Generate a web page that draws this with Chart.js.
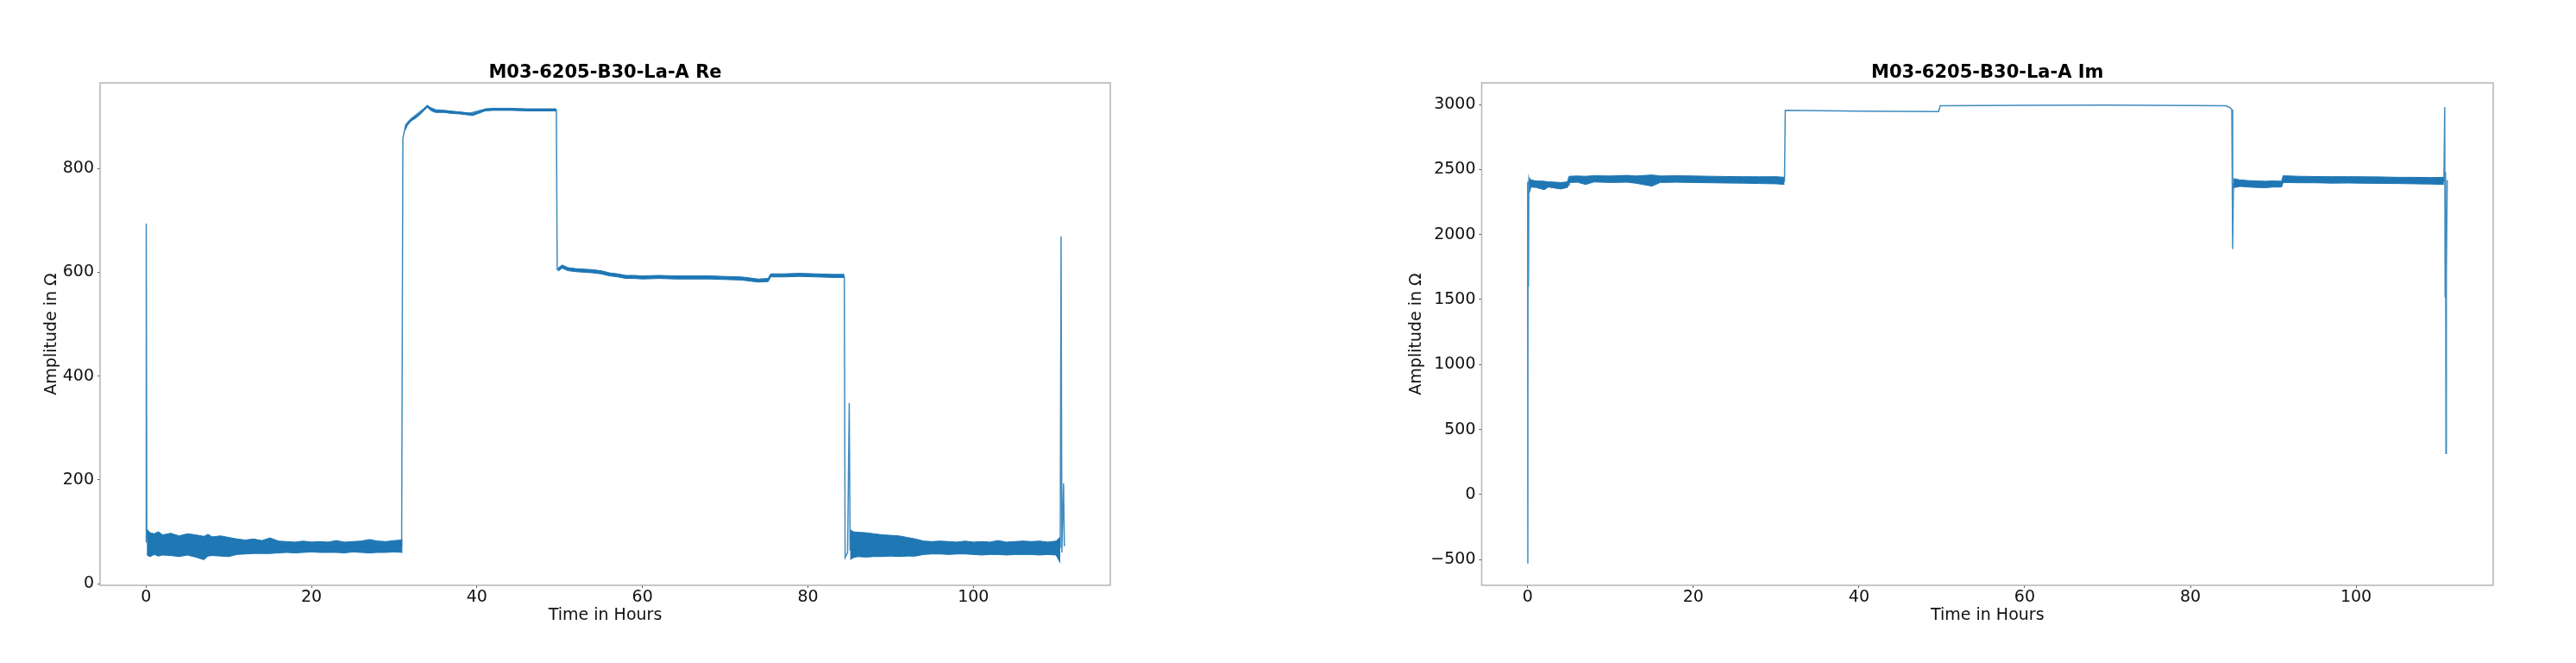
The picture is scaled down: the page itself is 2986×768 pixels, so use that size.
<!DOCTYPE html>
<html>
<head>
<meta charset="utf-8">
<script src="https://cdn.jsdelivr.net/npm/chart.js@4.4.1/dist/chart.umd.min.js"></script>
<style>
  body { margin: 0; background: #fff; width: 2986px; height: 768px; overflow: hidden; }
  canvas { position: absolute; top: 0; }
  #reChart { left: 0; }
  #imChart { left: 1493px; }
</style>
</head>
<body>
<canvas id="reChart" width="1493" height="768"></canvas>
<canvas id="imChart" width="1493" height="768"></canvas>
<script>
const BLUE = '#1f77b4';
const FONT = 'DejaVu Sans';

// tick labels
const timeTicks = [0, 20, 40, 60, 80, 100];
const reTicks = [0, 200, 400, 600, 800];
const imTicks = [-500, 0, 500, 1000, 1500, 2000, 2500, 3000];

// ---- Re: main trace (levels, jumps, spikes)
const reLineTime  = [0, 0.03, 0.1, 0.3, 5, 10, 15, 20, 25, 30.9, 31.05, 31.4, 32, 33, 34, 35, 37, 39, 40.5, 42, 45, 49.6, 49.7, 50.3, 52, 55, 58, 62, 66, 70, 74, 75.2, 75.4, 80, 84.4, 84.5, 84.8, 85.0, 85.1, 90, 100, 110.5, 110.6, 110.7, 110.9, 111];
const reLineValue = [80, 694, 100, 75, 72, 72, 70, 70, 70, 72, 858, 885, 895, 908, 920, 913, 910, 906, 912, 914, 913, 912, 605, 610, 603, 598, 591, 590, 590, 589, 584, 586, 593, 594, 592, 50, 60, 348, 65, 72, 70, 70, 669, 60, 193, 72];

// Re: noisy band 0-31 h (upper / lower envelope)
const reBandATime = [0.1, 0.5, 1, 1.5, 2, 3, 4, 5, 6, 7, 7.5, 8, 9, 10, 11, 12, 13, 14, 15, 16, 17, 18, 19, 20, 21, 22, 23, 24, 25, 26, 27, 28, 29, 30, 31];
const reBandAHigh = [105, 98, 96, 100, 94, 97, 92, 96, 94, 91, 95, 90, 92, 89, 86, 84, 86, 83, 88, 82, 81, 80, 82, 80, 81, 80, 83, 80, 81, 82, 85, 82, 81, 83, 84];
const reBandALow  = [55, 52, 56, 53, 55, 54, 52, 55, 51, 46, 53, 54, 53, 52, 56, 57, 58, 58, 58, 59, 60, 59, 60, 61, 60, 60, 60, 59, 61, 60, 59, 60, 60, 61, 60];

// Re: noisy band 85-110.5 h
const reBandBTime = [85.1, 85.5, 86, 87, 88, 89, 90, 91, 92, 93, 94, 95, 96, 97, 98, 99, 100, 101, 102, 103, 104, 105, 106, 107, 108, 109, 110, 110.5];
const reBandBHigh = [104, 100, 99, 98, 96, 94, 93, 92, 89, 86, 82, 81, 82, 81, 80, 82, 80, 81, 80, 83, 80, 81, 82, 81, 82, 80, 82, 90];
const reBandBLow  = [46, 50, 52, 51, 52, 52, 53, 52, 53, 53, 56, 57, 57, 56, 57, 57, 56, 55, 56, 56, 55, 56, 56, 56, 55, 56, 55, 40];

// Re: plateaus (thin noisy levels)
const rePlateauATime = [31.3, 31.6, 32, 32.5, 33, 33.5, 34, 34.5, 35, 36, 37, 38, 39, 39.5, 40, 41, 42, 44, 46, 48, 49.6];
const rePlateauAHigh = [877, 887, 895, 900, 906, 914, 922, 915, 912, 912, 910, 909, 907, 906, 909, 915, 916, 916, 915, 915, 915];
const rePlateauALow  = [873, 883, 891, 896, 902, 910, 918, 911, 908, 908, 906, 905, 903, 902, 905, 911, 912, 912, 911, 911, 911];

const rePlateauBTime = [49.8, 50.3, 51, 52, 53, 54, 55, 56, 57, 58, 59, 60, 62, 64, 66, 68, 70, 72, 74, 75.2, 75.5, 77, 79, 81, 83, 84.4];
const rePlateauBHigh = [608, 614, 609, 607, 606, 605, 603, 599, 597, 594, 594, 593, 594, 593, 593, 593, 592, 591, 587, 588, 597, 597, 598, 597, 596, 596];
const rePlateauBLow  = [602, 608, 603, 601, 600, 599, 597, 593, 591, 588, 588, 587, 588, 587, 587, 587, 586, 585, 581, 582, 591, 591, 592, 591, 590, 590];

// ---- Im: main trace
const imLineTime  = [0, 0.02, 0.05, 0.1, 0.15, 0.3, 5, 5.1, 31, 31.1, 40, 49.6, 49.8, 60, 70, 80, 84.3, 84.8, 85.0, 85.1, 85.2, 91, 91.2, 110.6, 110.7, 110.75, 110.8, 110.85, 110.9, 111];
const imLineValue = [2400, -530, 2410, 1600, 2430, 2390, 2380, 2420, 2410, 2955, 2948, 2945, 2990, 2993, 2995, 2992, 2990, 2975, 2960, 1888, 2390, 2385, 2420, 2410, 2980, 1520, 2480, 317, 1700, 2420];

// Im: noisy band 0-31 h
const imBandATime = [0.2, 0.4, 1, 2, 2.5, 3, 4, 4.8, 5.0, 6, 7, 8, 10, 12, 13, 15, 16, 18, 20, 22, 24, 26, 28, 30, 31];
const imBandAHigh = [2435, 2420, 2412, 2410, 2405, 2404, 2400, 2405, 2448, 2450, 2448, 2452, 2450, 2455, 2450, 2458, 2450, 2452, 2450, 2448, 2446, 2445, 2444, 2445, 2440];
const imBandALow  = [2320, 2365, 2362, 2345, 2365, 2360, 2350, 2362, 2400, 2402, 2385, 2404, 2400, 2402, 2395, 2372, 2400, 2402, 2400, 2398, 2396, 2395, 2392, 2390, 2385];

// Im: noisy band 85-110.6 h
const imBandBTime = [85.2, 86, 87, 88, 89, 90, 91, 91.2, 93, 95, 97, 99, 101, 103, 105, 107, 109, 110.6];
const imBandBHigh = [2430, 2420, 2415, 2412, 2410, 2412, 2410, 2452, 2448, 2446, 2445, 2445, 2444, 2443, 2440, 2440, 2438, 2440];
const imBandBLow  = [2360, 2370, 2365, 2362, 2360, 2365, 2365, 2400, 2398, 2398, 2395, 2396, 2394, 2393, 2392, 2390, 2388, 2385];

function pts(xs, ys) {
    return xs.map((x, i) => ({ x: x, y: ys[i] }));
}

function line(xs, ys) {
    return { data: pts(xs, ys), borderColor: 'rgba(31, 119, 180, 0.85)', borderWidth: 1.5, pointRadius: 0, fill: false };
}

function band(xs, high, low) {
    return [
        { data: pts(xs, high), borderColor: BLUE, borderWidth: 1, pointRadius: 0, fill: false },
        { data: pts(xs, low), borderColor: BLUE, borderWidth: 1, pointRadius: 0, fill: '-1', backgroundColor: BLUE }
    ];
}

const tickFmt = v => String(v).replace('-', '\u2212');

// grey box round the plot area
const frame = {
    id: 'frame',
    afterDatasetsDraw(chart) {
        const { ctx, chartArea: a } = chart;
        ctx.save();
        ctx.strokeStyle = '#b4b4b4';
        ctx.lineWidth = 1.5;
        ctx.strokeRect(a.left, a.top, a.right - a.left, a.bottom - a.top);
        ctx.restore();
    }
};

function makeChart(id, title, datasets, yTicks, yMin, yMax, axisWidth, padRight, yTitlePad) {
    return new Chart(document.getElementById(id).getContext('2d'), {
        type: 'line',
        data: { datasets: datasets },
        plugins: [frame],
        options: {
            responsive: false,
            animation: false,
            layout: { padding: { left: 0, right: padRight, top: 74.5, bottom: 0 } },
            plugins: {
                legend: { display: false },
                tooltip: { enabled: false },
                title: {
                    display: true,
                    fullSize: false,
                    text: title,
                    color: '#000',
                    font: { family: FONT, size: 21, weight: 'bold', lineHeight: 1 },
                    padding: { top: 0, bottom: 0.5 }
                }
            },
            scales: {
                x: {
                    type: 'linear',
                    min: -5.55,
                    max: 116.55,
                    afterBuildTicks: s => { s.ticks = timeTicks.map(v => ({ value: v })); },
                    afterFit: s => { s.height = 90; },
                    ticks: {
                        maxRotation: 0,
                        autoSkip: false,
                        color: '#111',
                        padding: 1.5,
                        font: { family: FONT, size: 19, lineHeight: 1 },
                        callback: tickFmt
                    },
                    grid: { display: true, drawOnChartArea: false, drawTicks: true, tickLength: 3, color: '#555' },
                    border: { display: false },
                    title: {
                        display: true,
                        text: 'Time in Hours',
                        color: '#111',
                        font: { family: FONT, size: 19 },
                        padding: { top: 0, bottom: 43.6 }
                    }
                },
                y: {
                    type: 'linear',
                    min: yMin,
                    max: yMax,
                    afterBuildTicks: s => { s.ticks = yTicks.map(v => ({ value: v })); },
                    afterFit: s => { s.width = axisWidth; },
                    ticks: {
                        autoSkip: false,
                        color: '#111',
                        padding: 4,
                        font: { family: FONT, size: 19, lineHeight: 1 },
                        callback: tickFmt
                    },
                    grid: { display: true, drawOnChartArea: false, drawTicks: true, tickLength: 3, color: '#555' },
                    border: { display: false },
                    title: {
                        display: true,
                        text: 'Amplitude in \u03A9',
                        color: '#111',
                        font: { family: FONT, size: 19 },
                        padding: { top: yTitlePad, bottom: 0 }
                    }
                }
            }
        }
    });
}

const reChart = makeChart('reChart', 'M03-6205-B30-La-A Re', [
    line(reLineTime, reLineValue),
    ...band(reBandATime, reBandAHigh, reBandALow),
    ...band(reBandBTime, reBandBHigh, reBandBLow),
    ...band(rePlateauATime, rePlateauAHigh, rePlateauALow),
    ...band(rePlateauBTime, rePlateauBHigh, rePlateauBLow)
], reTicks, -3.3, 965, 116, 206, 48.6);

const imChart = makeChart('imChart', 'M03-6205-B30-La-A Im', [
    line(imLineTime, imLineValue),
    ...band(imBandATime, imBandAHigh, imBandALow),
    ...band(imBandBTime, imBandBHigh, imBandBLow)
], imTicks, -697, 3166, 224.5, 96, 138.1);
</script>
</body>
</html>
